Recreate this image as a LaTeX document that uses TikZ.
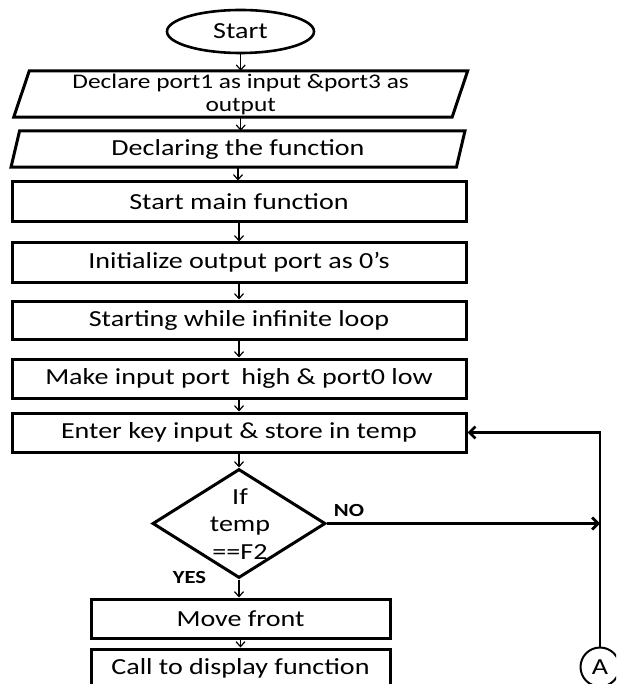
\documentclass[tikz,border=0pt]{standalone}
\usepackage{fontspec}
\setmainfont{Carlito}[FakeStretch=1.22]
\usetikzlibrary{shapes.geometric,arrows.meta}
\begin{document}
\begin{tikzpicture}[x=1pt,y=-1pt,
  mainfont/.style={font=\fontsize{23}{28}\selectfont},
  box/.style={draw, line width=3pt, rectangle, minimum height=39pt, minimum width=454pt, inner sep=0pt, mainfont},
  smallbox/.style={box, minimum width=299pt},
  paratext/.style={rectangle, inner sep=0pt, align=center},
  shp/.style={line width=3pt, line join=miter},
  flow/.style={line width=1.2pt, -{Straight Barb[length=5pt,width=9pt]}},
  loop/.style={line width=2.8pt, -{Straight Barb[length=6pt,width=12pt]}},
  yn/.style={font=\fontsize{18.5}{20}\selectfont\bfseries, inner sep=0pt}
]
\useasboundingbox (0,0) rectangle (616,684);
\clip (0,0) rectangle (616,684);
\fill[white] (0,0) rectangle (616,684);

% Start
\node[ellipse, draw, line width=2.6pt, minimum width=147pt, minimum height=43pt, inner sep=0pt, mainfont] (start) at (240.5,31.5) {Start};

% parallelogram 1
\node[paratext, minimum width=438pt, minimum height=46pt, font=\fontsize{20.8}{23}\selectfont] (decl) at (240.7,94) {Declare port1 as input \&port3 as\\output};
\draw[shp] ([xshift=7.8pt]decl.north west) -- ([xshift=7.8pt]decl.north east) -- ([xshift=-7.8pt]decl.south east) -- ([xshift=-7.8pt]decl.south west) -- cycle;

% parallelogram 2
\node[paratext, minimum width=445pt, minimum height=36pt, mainfont] (func) at (238,149) {Declaring the function};
\draw[shp] ([xshift=4.3pt]func.north west) -- ([xshift=4.3pt]func.north east) -- ([xshift=-4.3pt]func.south east) -- ([xshift=-4.3pt]func.south west) -- cycle;

% boxes
\node[box, minimum height=40pt] (mainf) at (239,202) {Start main function};
\node[box] (init) at (239,262.5) {Initialize output port as 0’s};
\node[box, minimum height=38pt] (loopb) at (239,320) {Starting while infinite loop};
\node[box] (make) at (239,378.5) {Make input port\hspace{5pt} high \& port0 low};
\node[box] (enter) at (239,432.5) {Enter key input \& store in temp};

% decision
\node[diamond, draw, line width=3pt, minimum width=173pt, minimum height=109pt, inner sep=0pt] (dec) at (239,523.5) {};
\node[align=center, inner sep=0pt, font=\fontsize{23}{27.5}\selectfont] (dect) at (240,524) {If\\temp\\==F2};

\node[smallbox] (move) at (240.5,618.5) {Move front};
\node[smallbox] (call) at (240.5,668.5) {Call to display function};

% connector A
\node[circle, draw, line width=2pt, minimum size=39pt, inner sep=0pt, mainfont] (A) at (600,667) {A};
\coordinate (nojoin) at (A.north |- dec.east);

% labels
\node[yn] (no) at (349,510) {NO};
\node[yn] (yes) at (189.5,577) {YES};

% flow arrows
\draw[flow] (start.south -| decl.north) -- (decl.north);
\draw[flow] (decl.south) -- (decl.south |- func.north);
\draw[flow] (func.south) -- (func.south |- mainf.north);
\draw[flow] (mainf.south) -- (init.north);
\draw[flow] (init.south) -- (loopb.north);
\draw[flow] (loopb.south) -- (make.north);
\draw[flow] (make.south) -- (enter.north);
\draw[flow] (enter.south) -- (dec.north);
\draw[flow] (dec.south) -- (dec.south |- move.north);
\draw[flow] (move.south) -- (call.north);

% NO branch and loop back
\draw[loop] (dec.east) -- (nojoin);
\draw[loop] (A.north) |- (enter.east);
\end{tikzpicture}
\end{document}
